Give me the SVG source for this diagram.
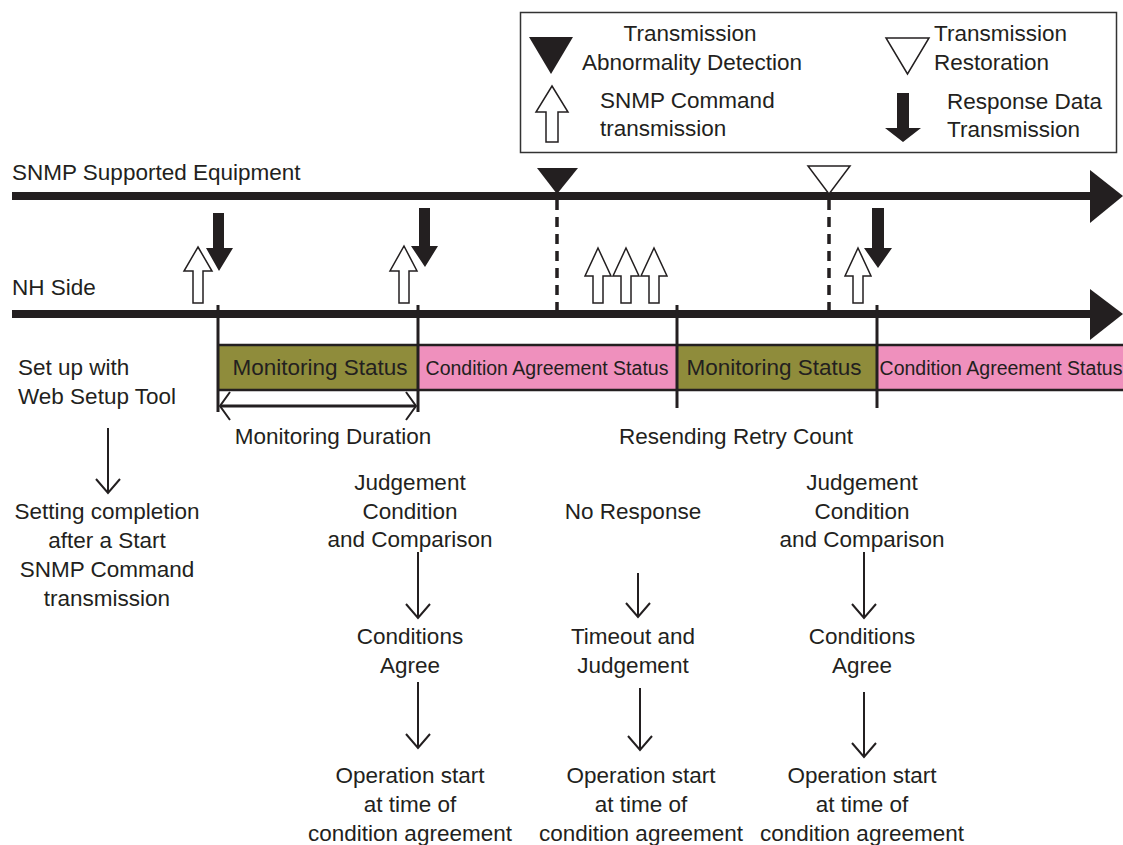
<svg xmlns="http://www.w3.org/2000/svg" width="1123" height="845" viewBox="0 0 1123 845">
<defs>
<style>
text{font-family:"Liberation Sans",Arial,sans-serif;font-size:22.5px;fill:#231f20}
.c{text-anchor:middle}
.sm{font-size:19.5px}
.axis{stroke:#231f20;stroke-width:8;fill:none}
.tick{stroke:#231f20;stroke-width:3;fill:none}
.dash{stroke:#231f20;stroke-width:3.5;stroke-dasharray:10 7;fill:none}
.solid{fill:#231f20;stroke:none}
.open{fill:#fff;stroke:#231f20;stroke-width:1.5}
.flow{stroke:#231f20;stroke-width:2;fill:none}
.mon{fill:#8f8c3b;stroke:none}
.cond{fill:#ef90bd;stroke:none}
.edge{stroke:#231f20;stroke-width:2.5;fill:none}
</style>
</defs>
<rect width="1123" height="845" fill="#fff"/>

<g id="legend">
<rect x="520.5" y="12.5" width="596" height="140" fill="#fff" stroke="#333" stroke-width="1.5"/>
<polygon class="solid" points="529,37 573,37 551,74"/>
<text class="c" x="690" y="41">Transmission</text>
<text class="c" x="692" y="70">Abnormality Detection</text>
<polygon class="open" points="886,38 929,38 907.5,74"/>
<text x="934" y="41">Transmission</text>
<text x="934" y="70">Restoration</text>
<path class="open" d="M552,86 L568,112 L558,112 L558,142 L546,142 L546,112 L536,112 Z"/>
<text x="600" y="108">SNMP Command</text>
<text x="600" y="136">transmission</text>
<path class="solid" d="M897,93 L909,93 L909,128 L921,128 L903,142 L885,128 L897,128 Z"/>
<text x="947" y="109">Response Data</text>
<text x="947" y="137">Transmission</text>
</g>

<g id="timeline-equipment">
<text x="12" y="180">SNMP Supported Equipment</text>
<line class="axis" x1="12" y1="196" x2="1095" y2="196"/>
<polygon class="solid" points="1090,170 1123,196 1090,223"/>
<polygon class="solid" points="537,168 578,168 557,194"/>
<polygon class="open" points="808,166 850,166 829,194"/>
</g>

<g id="timeline-nh">
<text x="12" y="295">NH Side</text>
<line class="axis" x1="12" y1="314" x2="1095" y2="314"/>
<polygon class="solid" points="1090,289 1123,314 1090,340"/>
</g>

<g id="status-bars">
<rect class="mon" x="218" y="345" width="200" height="45"/>
<rect class="cond" x="418" y="345" width="259" height="45"/>
<rect class="mon" x="677" y="345" width="200" height="45"/>
<rect class="cond" x="877" y="345" width="246" height="45"/>
<line class="edge" x1="218" y1="345" x2="1123" y2="345"/>
<line class="edge" x1="218" y1="390" x2="1123" y2="390"/>
<text class="c" x="320" y="375">Monitoring Status</text>
<text class="c sm" x="547" y="375">Condition Agreement Status</text>
<text class="c" x="774" y="375">Monitoring Status</text>
<text class="c sm" x="1001" y="375">Condition Agreement Status</text>
</g>

<g id="connectors">
<line class="tick" x1="218" y1="305" x2="218" y2="412"/>
<line class="tick" x1="418" y1="305" x2="418" y2="412"/>
<line class="tick" x1="677" y1="305" x2="677" y2="408"/>
<line class="tick" x1="877" y1="305" x2="877" y2="408"/>
<line class="dash" x1="557" y1="200" x2="557" y2="314"/>
<line class="dash" x1="829" y1="200" x2="829" y2="314"/>
<path class="solid" d="M213,213 L224,213 L224,248 L233,248 L219,271 L206,248 L213,248 Z"/>
<path class="solid" d="M419,208 L430,208 L430,246 L438,246 L425,267 L411,246 L419,246 Z"/>
<path class="solid" d="M872,208 L884,208 L884,248 L892,248 L878,268 L864,248 L872,248 Z"/>
<path class="open" d="M198,247 L212,271 L203,271 L203,303 L193,303 L193,271 L184,271 Z"/>
<path class="open" d="M404,246 L417,271 L409,271 L409,303 L399,303 L399,271 L390,271 Z"/>
<path class="open" d="M598,248 L611,276 L603,276 L603,303 L593,303 L593,276 L585,276 Z"/>
<path class="open" d="M626,248 L639,276 L631,276 L631,303 L621,303 L621,276 L613,276 Z"/>
<path class="open" d="M654,248 L667,276 L659,276 L659,303 L649,303 L649,276 L641,276 Z"/>
<path class="open" d="M858,248 L871,276 L863,276 L863,303 L853,303 L853,276 L845,276 Z"/>
<line x1="220" y1="406" x2="416" y2="406" stroke="#231f20" stroke-width="3"/>
<path class="flow" d="M230,392 L220,406 L230,420 M406,392 L416,406 L406,420"/>
<path class="flow" d="M108,428 V493 M96,479 L108,493 L120,479"/>
<path class="flow" d="M418,552 V618 M406,604 L418,618 L430,604"/>
<path class="flow" d="M638,573 V617 M626,603 L638,617 L650,603"/>
<path class="flow" d="M864,552 V618 M852,604 L864,618 L876,604"/>
<path class="flow" d="M418,682 V748 M406,734 L418,748 L430,734"/>
<path class="flow" d="M640,688 V750 M628,736 L640,750 L652,736"/>
<path class="flow" d="M864,692 V757 M852,743 L864,757 L876,743"/>
</g>

<g id="labels">
<text x="18" y="375">Set up with</text>
<text x="18" y="404">Web Setup Tool</text>
<text class="c" x="333" y="444">Monitoring Duration</text>
<text class="c" x="736" y="444">Resending Retry Count</text>
<text class="c" x="107" y="519">Setting completion</text>
<text class="c" x="107" y="548">after a Start</text>
<text class="c" x="107" y="577">SNMP Command</text>
<text class="c" x="107" y="606">transmission</text>
</g>

<g id="col-1">
<text class="c" x="410" y="490">Judgement</text>
<text class="c" x="410" y="519">Condition</text>
<text class="c" x="410" y="547">and Comparison</text>
<text class="c" x="410" y="644">Conditions</text>
<text class="c" x="410" y="673">Agree</text>
<text class="c" x="410" y="783">Operation start</text>
<text class="c" x="410" y="812">at time of</text>
<text class="c" x="410" y="841">condition agreement</text>
</g>

<g id="col-2">
<text class="c" x="633" y="519">No Response</text>
<text class="c" x="633" y="644">Timeout and</text>
<text class="c" x="633" y="673">Judgement</text>
<text class="c" x="641" y="783">Operation start</text>
<text class="c" x="641" y="812">at time of</text>
<text class="c" x="641" y="841">condition agreement</text>
</g>

<g id="col-3">
<text class="c" x="862" y="490">Judgement</text>
<text class="c" x="862" y="519">Condition</text>
<text class="c" x="862" y="547">and Comparison</text>
<text class="c" x="862" y="644">Conditions</text>
<text class="c" x="862" y="673">Agree</text>
<text class="c" x="862" y="783">Operation start</text>
<text class="c" x="862" y="812">at time of</text>
<text class="c" x="862" y="841">condition agreement</text>
</g>
</svg>
